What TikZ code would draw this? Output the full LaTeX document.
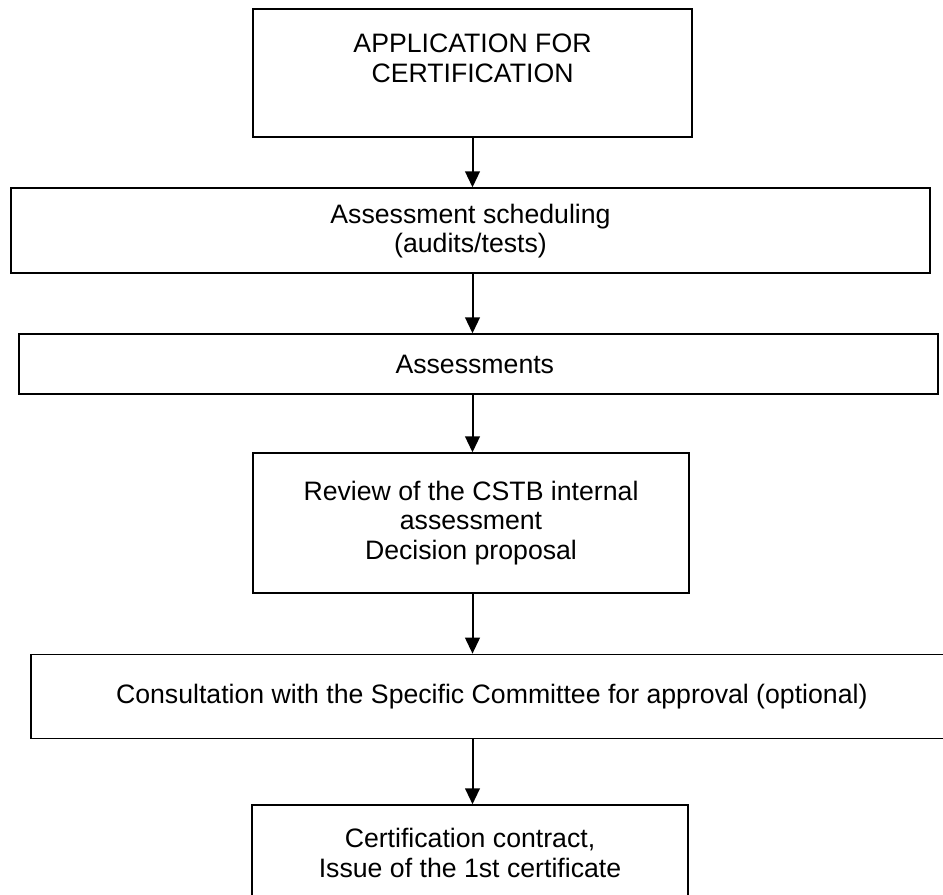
\documentclass[tikz,border=0pt]{standalone}
\usepackage{fontspec}
\setmainfont{Liberation Sans}
\usetikzlibrary{positioning, arrows.meta}

\begin{document}
\begin{tikzpicture}[
  x=0.75pt, y=-0.75pt,
  font=\fontsize{20pt}{22pt}\selectfont,
  stage/.style={
    rectangle,
    draw,
    line width=1.5pt,
    align=center,
    inner sep=0pt,
  },
  flow/.style={
    line width=1.5pt,
    -{Triangle[length=12pt, width=11pt]},
  },
]
\useasboundingbox (0,0) rectangle (943,895);

% --- Application ---
\node[stage, line width=2pt, minimum width=329.25pt, minimum height=96pt] (Apply) at (472.5,73) {
  APPLICATION FOR\\CERTIFICATION\\\mbox{}
};

% --- Scheduling ---
\node[stage, minimum width=689.25pt, minimum height=63.75pt, below=36.75pt of Apply, xshift=-1.5pt] (Schedule) {
  Assessment scheduling\\(audits/tests)
};

% --- Assessments ---
\node[stage, minimum width=689.25pt, minimum height=45pt, below=44.25pt of Schedule, xshift=6pt] (Assess) {
  Assessments
};

% --- Review ---
\node[stage, line width=1pt, minimum width=327pt, minimum height=105pt, below=42.75pt of Assess, xshift=-5.625pt] (Review) {
  Review of the CSTB internal\\assessment\\Decision proposal
};

% --- Consultation ---
\node[stage, line width=1.2pt, minimum width=696.75pt, minimum height=63pt, below=45pt of Review, xshift=18.375pt] (Consult) {
  Consultation with the Specific Committee for approval (optional)
};

% --- Certificate ---
\node[stage, line width=1pt, minimum width=327pt, minimum height=72pt, below=48.75pt of Consult, xshift=-19.125pt] (Cert) {
  Certification contract,\\Issue of the 1st certificate
};

% arrows down the chain
\draw[flow] (Apply.south) -- (Apply.south |- Schedule.north);
\draw[flow] (Apply.south |- Schedule.south) -- (Apply.south |- Assess.north);
\draw[flow] (Apply.south |- Assess.south) -- (Apply.south |- Review.north);
\draw[flow] (Apply.south |- Review.south) -- (Apply.south |- Consult.north);
\draw[flow] (Apply.south |- Consult.south) -- (Apply.south |- Cert.north);

\end{tikzpicture}
\end{document}
